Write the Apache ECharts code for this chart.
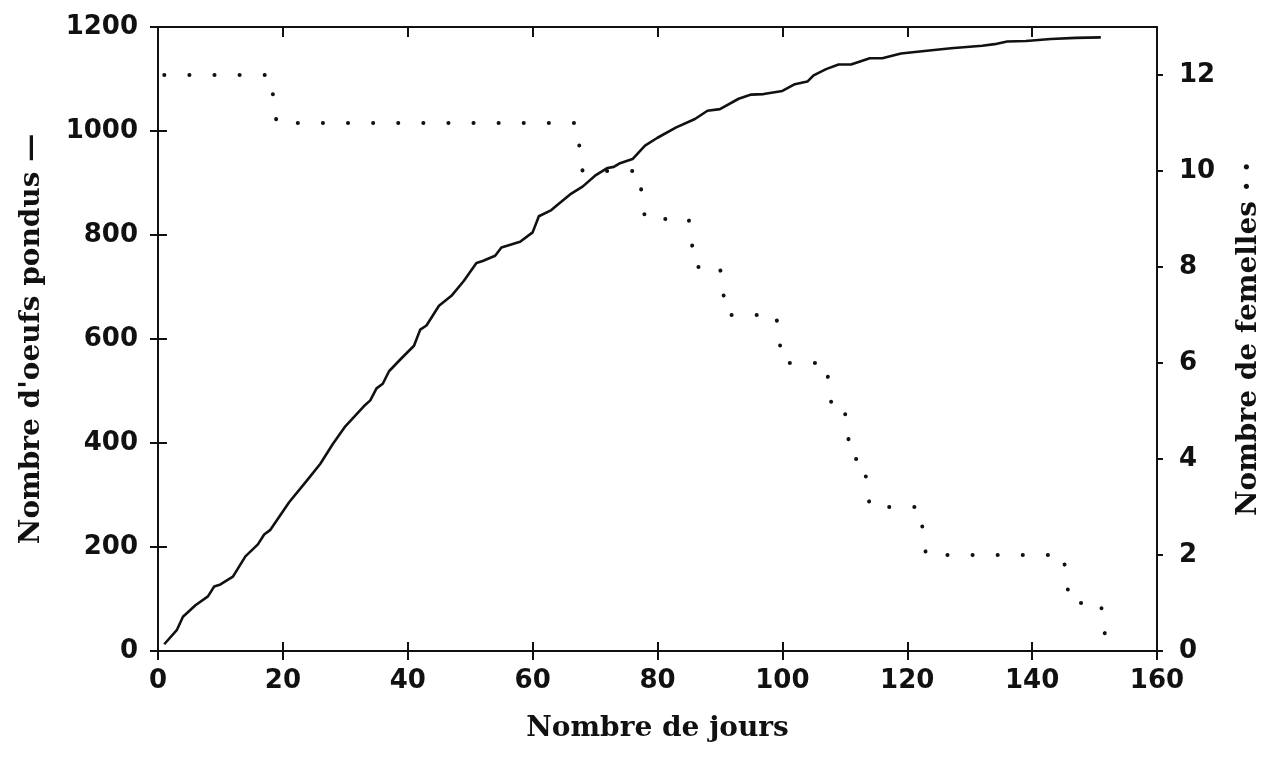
<!DOCTYPE html>
<html lang="fr">
<head>
    <meta charset="UTF-8">
    <title>Oeufs pondus et femelles</title>
    <style>
        html, body { margin: 0; padding: 0; background: #fff; }
    </style>
</head>
<body>
<div id="main" style="width:1267px;height:757px;"></div>
<script src="https://cdn.jsdelivr.net/npm/echarts@6/dist/echarts.min.js"></script>
<script>
    // cumulative eggs laid (left axis)
    var eggDays = [1, 3, 4, 6, 8, 9, 10, 12, 14, 16, 17, 18, 21, 24, 26, 28, 30, 33, 34, 35,
        36, 37, 39, 41, 42, 43, 45, 47, 49, 51, 52, 54, 55, 58, 60, 61, 63, 64, 66, 68,
        70, 72, 73, 74, 76, 78, 80, 83, 86, 88, 90, 93, 95, 97, 100, 102, 104, 105, 107, 109,
        111, 114, 116, 119, 122, 127, 132, 134, 136, 139, 143, 147, 151];
    var eggCounts = [13, 40, 66, 88, 105, 124, 128, 143, 182, 205, 224, 233, 286, 330, 360, 398, 432, 471, 482, 505,
        514, 538, 563, 587, 618, 626, 664, 683, 712, 746, 750, 760, 776, 787, 805, 836, 848, 858, 878, 893,
        914, 929, 931, 938, 946, 972, 987, 1007, 1023, 1039, 1042, 1062, 1070, 1071, 1077, 1090, 1095, 1107, 1119, 1128,
        1128, 1140, 1140, 1149, 1153, 1159, 1164, 1167, 1172, 1173, 1177, 1179, 1180];

    // number of females alive (right axis)
    var femaleDays = [1, 18, 19, 67, 68, 77, 78, 85, 86, 90, 91, 99, 100, 107, 108, 110, 111, 113, 114, 122,
        123, 145, 146, 151, 152];
    var femaleCounts = [12, 12, 11, 11, 10, 10, 9, 9, 8, 8, 7, 7, 6, 6, 5, 5, 4, 4, 3, 3,
        2, 2, 1, 1, 0];

    var dayTicks = [0, 160, 20];
    var eggTicks = [0, 1200, 200];
    var femaleTicks = [0, 13, 2];

    function pairs(xs, ys) {
        var out = [];
        for (var i = 0; i < xs.length; i++) {
            out.push([xs[i], ys[i]]);
        }
        return out;
    }

    function plain(v) {
        return String(v);
    }

    var ink = '#111';
    var tickFont = {color: ink, fontFamily: 'DejaVu Sans', fontWeight: 'bold', fontSize: 26, formatter: plain};
    var titleFont = {color: ink, fontFamily: 'DejaVu Serif', fontWeight: 'bold', fontSize: 28};
    var line = {onZero: false, lineStyle: {color: ink, width: 2}};

    var myChart = echarts.init(document.getElementById('main'));

    var option = {
        backgroundColor: '#fff',
        animation: false,
        grid: {left: 158, right: 110, top: 27, bottom: 106, containLabel: false, outerBoundsMode: 'none'},
        xAxis: [
            {
                type: 'value', position: 'bottom',
                min: dayTicks[0], max: dayTicks[1], interval: dayTicks[2],
                name: 'Nombre de jours', nameLocation: 'middle', nameGap: 64,
                nameTextStyle: titleFont,
                axisLine: line,
                axisTick: {inside: true, length: 9, lineStyle: {color: ink, width: 2}},
                axisLabel: Object.assign({margin: 17, showMinLabel: true, showMaxLabel: true}, tickFont),
                splitLine: {show: false}
            },
            {
                // ticks below the bottom line
                type: 'value', position: 'bottom',
                min: dayTicks[0], max: dayTicks[1], interval: dayTicks[2],
                axisLine: {show: false, onZero: false},
                axisTick: {inside: false, length: 9, lineStyle: {color: ink, width: 2}},
                axisLabel: {show: false},
                splitLine: {show: false}
            },
            {
                type: 'value', position: 'top',
                min: dayTicks[0], max: dayTicks[1], interval: dayTicks[2],
                axisLine: line,
                axisTick: {inside: true, length: 10, lineStyle: {color: ink, width: 2}},
                axisLabel: {show: false},
                splitLine: {show: false}
            }
        ],
        yAxis: [
            {
                type: 'value', position: 'left',
                min: eggTicks[0], max: eggTicks[1], interval: eggTicks[2],
                name: "Nombre d'oeufs pondus —", nameLocation: 'middle', nameGap: 112,
                nameTextStyle: titleFont,
                axisLine: line,
                axisTick: {inside: true, length: 9, lineStyle: {color: ink, width: 2}},
                axisLabel: Object.assign({margin: 20}, tickFont),
                splitLine: {show: false}
            },
            {
                // ticks left of the left line
                type: 'value', position: 'left',
                min: eggTicks[0], max: eggTicks[1], interval: eggTicks[2],
                axisLine: {show: false, onZero: false},
                axisTick: {inside: false, length: 8, lineStyle: {color: ink, width: 2}},
                axisLabel: {show: false},
                splitLine: {show: false}
            },
            {
                type: 'value', position: 'right',
                min: femaleTicks[0], max: femaleTicks[1], interval: femaleTicks[2],
                name: 'Nombre de femelles · ·', nameLocation: 'middle', nameGap: 78,
                nameTextStyle: titleFont,
                axisLine: line,
                axisTick: {inside: false, length: 6, lineStyle: {color: ink, width: 2}},
                axisLabel: Object.assign({margin: 22, showMaxLabel: false}, tickFont),
                splitLine: {show: false}
            }
        ],
        series: [
            {
                name: 'femelles',
                type: 'line',
                xAxisIndex: 0,
                yAxisIndex: 2,
                data: pairs(femaleDays, femaleCounts),
                showSymbol: false,
                lineStyle: {color: ink, width: 4, type: [0.1, 25], cap: 'round'},
                z: 2
            },
            {
                name: 'oeufs',
                type: 'line',
                xAxisIndex: 0,
                yAxisIndex: 0,
                data: pairs(eggDays, eggCounts),
                showSymbol: false,
                lineStyle: {color: ink, width: 2.6, join: 'round'},
                z: 3
            }
        ]
    };

    myChart.setOption(option);
</script>
</body>
</html>
